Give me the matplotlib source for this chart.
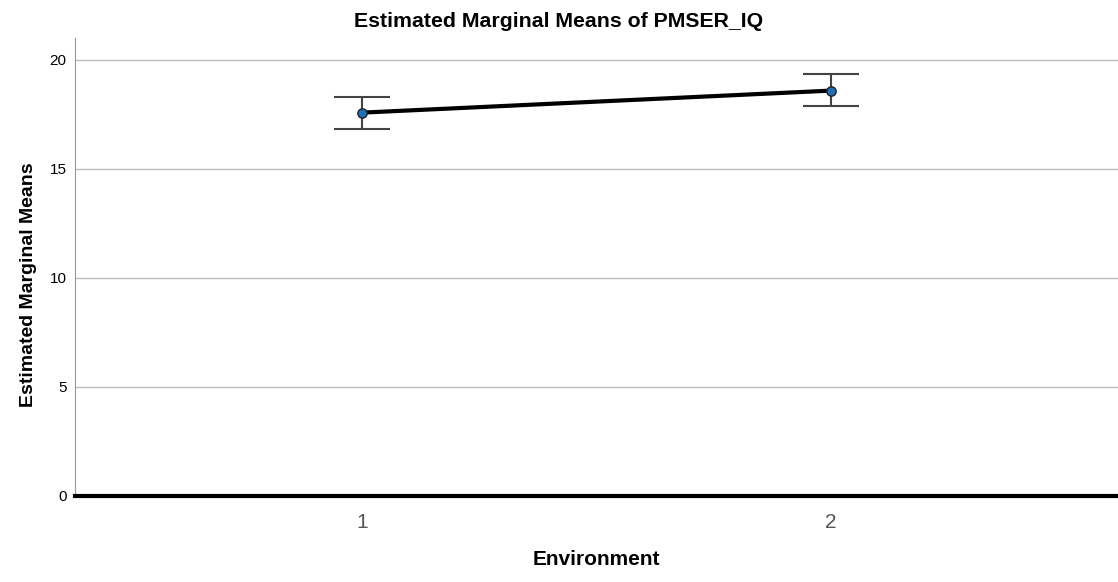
import numpy as np
import matplotlib
matplotlib.use('Agg')
from matplotlib import pyplot as plt

#data
environment = [1, 2]
means = [17.57, 18.58]
ci_low = [16.83, 17.89]
ci_high = [18.30, 19.36]
yticks = [0, 5, 10, 15, 20]

plt.rcParams['font.family'] = ['Liberation Sans', 'DejaVu Sans']

fig = plt.figure(figsize=(11.18, 5.82), dpi=100)
ax = fig.add_axes([0.067, 0.148, 0.933, 0.787])

means = np.array(means)
yerr = np.array([means - np.array(ci_low), np.array(ci_high) - means])

ax.plot(environment, means, color='black', lw=3, zorder=3)
ax.errorbar(environment, means, yerr=yerr, fmt='none', ecolor='#444444',
            elinewidth=1.5, capsize=20, capthick=1.5, zorder=4)
ax.scatter(environment, means, s=45, color='#1f6fb8', edgecolor='#222222',
           linewidth=1, zorder=5)

ax.set_xlim(0.388, 2.612)
ax.set_ylim(0, 21)
ax.set_yticks(yticks)
ax.set_xticks(environment)
ax.yaxis.grid(True, color='#bdbdbd', lw=1)
ax.set_axisbelow(True)

for s in ['top', 'right']:
    ax.spines[s].set_visible(False)
ax.spines['left'].set_color('#999999')
ax.spines['bottom'].set_color('black')
ax.spines['bottom'].set_linewidth(3)

ax.tick_params(axis='y', length=0, labelsize=11, pad=6)
ax.tick_params(axis='x', length=0, labelsize=15, labelcolor='#555555', pad=12)

# title is centred on the figure, not on the plot area
ax.set_title('Estimated Marginal Means of PMSER_IQ', fontsize=15.3, fontweight='bold',
             x=0.464, pad=8)
ax.set_ylabel('Estimated Marginal Means', fontsize=14, fontweight='bold',
              family=['Liberation Sans Narrow', 'Liberation Sans'])
ax.set_xlabel('Environment', fontsize=15, fontweight='bold')
ax.yaxis.set_label_coords(-0.036, 0.46)
ax.xaxis.set_label_coords(0.5, -0.118)

plt.savefig('out.png', dpi=100)
